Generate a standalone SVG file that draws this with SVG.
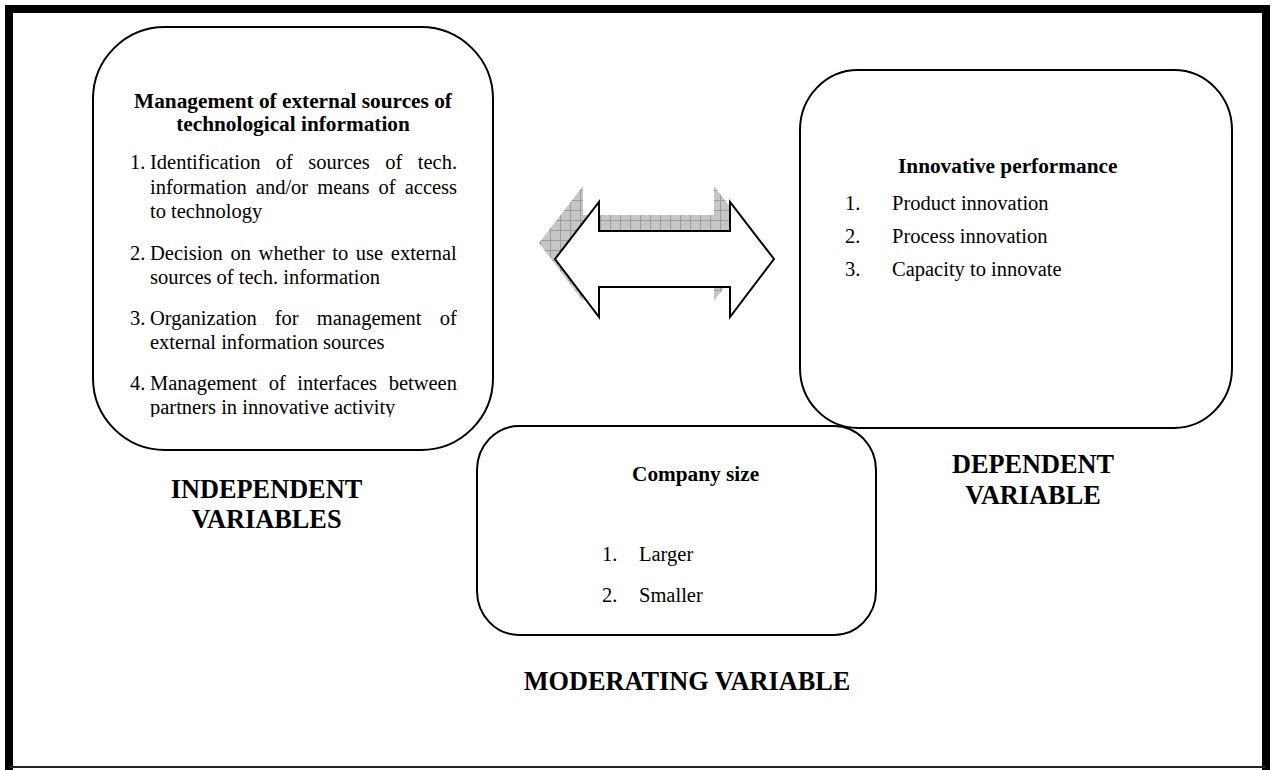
<svg xmlns="http://www.w3.org/2000/svg" width="1274" height="770" viewBox="0 0 1274 770">
<defs>
<style>
.box{fill:#fff;stroke:#000;stroke-width:2}
.t{font-family:"Liberation Serif","Times New Roman",serif;font-size:20.5px;fill:#000}
.b{font-family:"Liberation Serif","Times New Roman",serif;font-size:21.3px;font-weight:bold;fill:#000}
.lab{font-family:"Liberation Serif","Times New Roman",serif;font-size:26.3px;font-weight:bold;text-anchor:middle;fill:#000}
.arrow{fill:#fff;stroke:#000;stroke-width:2;stroke-linejoin:miter}
</style>
<pattern id="grid" width="10" height="10" patternUnits="userSpaceOnUse">
<rect width="10" height="10" fill="#c6c6c6"/>
<path d="M0 0.5H10M0.5 0V10" stroke="#9c9c9c" stroke-width="1"/>
</pattern>
<clipPath id="clipL"><rect x="92" y="27" width="402" height="390"/></clipPath>
</defs>
<rect x="0" y="0" width="1274" height="770" fill="#fff"/>
<g id="frame">
<path d="M9 770V9H1266V770" fill="none" stroke="#000" stroke-width="8"/>
<line x1="9" y1="767" x2="1266" y2="767" stroke="#222" stroke-width="2"/>
</g>
<g id="connectors">
<polygon fill="url(#grid)" points="539,243 583,186 583,215 714,215 714,186 758,243 714,301 714,271 583,271 583,301"/>
<polygon class="arrow" points="555,259 599,202 599,231 730,231 730,202 774,259 730,317 730,287 599,287 599,317"/>
</g>
<g id="independent">
<rect class="box" x="93" y="27" width="400" height="423" rx="72" ry="72"/>
<g clip-path="url(#clipL)">
<text class="b" text-anchor="middle" x="293" y="107.5">Management of external sources of</text>
<text class="b" text-anchor="middle" x="293" y="131">technological information</text>
<text class="t" x="130" y="169">1.</text>
<text class="t" x="150" y="169" word-spacing="10.3">Identification of sources of tech.</text>
<text class="t" x="150" y="193.5" word-spacing="3.9">information and/or means of access</text>
<text class="t" x="150" y="218">to technology</text>
<text class="t" x="130" y="260">2.</text>
<text class="t" x="150" y="260" word-spacing="2.5">Decision on whether to use external</text>
<text class="t" x="150" y="284">sources of tech. information</text>
<text class="t" x="130" y="325">3.</text>
<text class="t" x="150" y="325" word-spacing="13">Organization for management of</text>
<text class="t" x="150" y="349">external information sources</text>
<text class="t" x="130" y="390">4.</text>
<text class="t" x="150" y="390" word-spacing="6.5">Management of interfaces between</text>
<text class="t" x="150" y="414">partners in innovative activity</text>
</g>
</g>
<g id="dependent">
<rect class="box" x="800" y="70" width="432" height="358" rx="58" ry="60"/>
<text class="b" x="898" y="173">Innovative performance</text>
<text class="t" x="845" y="210">1.</text>
<text class="t" x="892" y="210">Product innovation</text>
<text class="t" x="845" y="243">2.</text>
<text class="t" x="892" y="243">Process innovation</text>
<text class="t" x="845" y="276">3.</text>
<text class="t" x="892" y="276">Capacity to innovate</text>
</g>
<g id="moderating">
<rect class="box" x="477" y="426" width="399" height="209" rx="42" ry="44"/>
<text class="b" x="632" y="481">Company size</text>
<text class="t" x="602" y="561">1.</text>
<text class="t" x="639" y="561">Larger</text>
<text class="t" x="602" y="602">2.</text>
<text class="t" x="639" y="602">Smaller</text>
</g>
<g id="labels">
<text class="lab" x="266.5" y="498">INDEPENDENT</text>
<text class="lab" x="266.5" y="528">VARIABLES</text>
<text class="lab" x="1033" y="473">DEPENDENT</text>
<text class="lab" x="1033" y="504">VARIABLE</text>
<text class="lab" x="687" y="690">MODERATING VARIABLE</text>
</g>
</svg>
